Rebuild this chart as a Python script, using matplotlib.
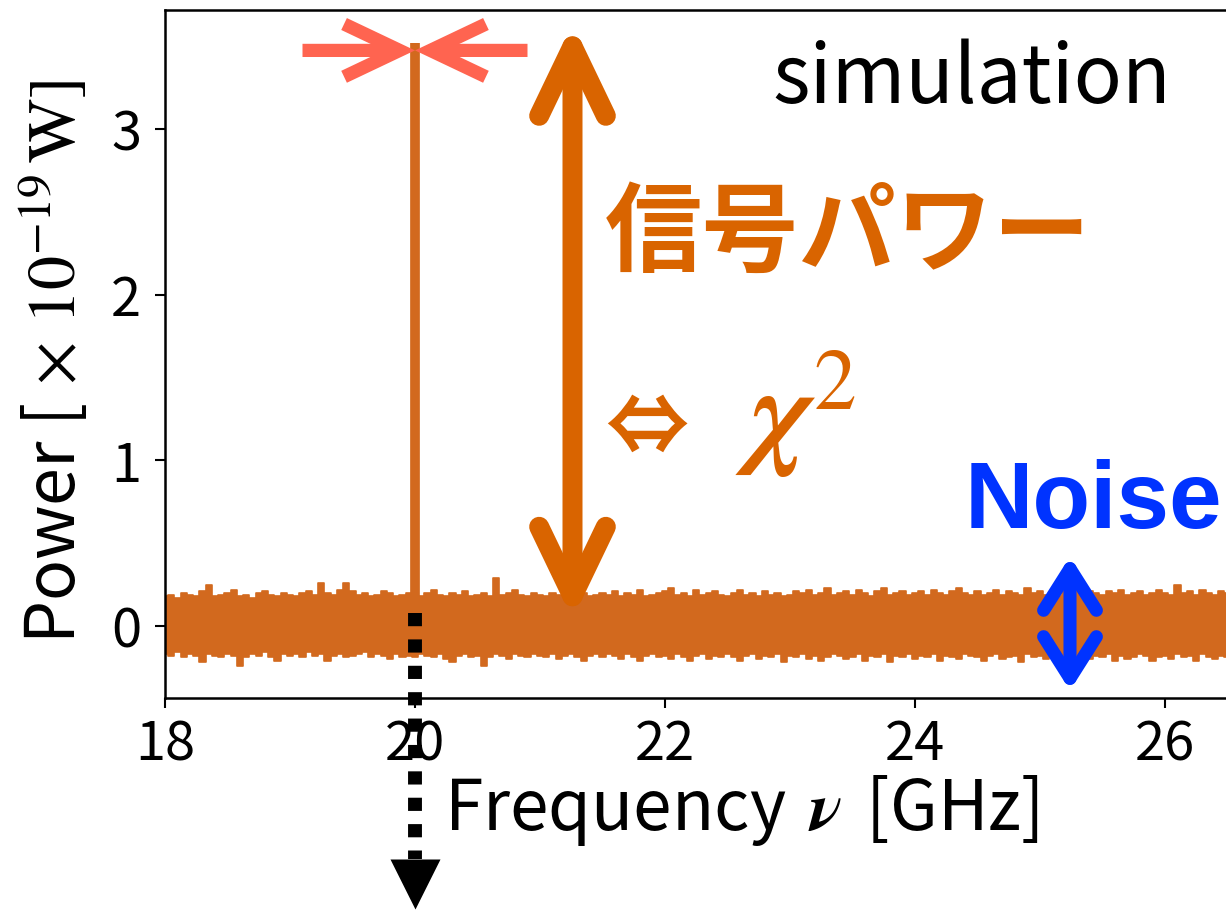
import numpy as np
import matplotlib
matplotlib.use('Agg')
import matplotlib.pyplot as plt
from matplotlib.patches import FancyArrowPatch, ArrowStyle

plt.rcParams['font.family'] = ['Noto Sans CJK JP', 'DejaVu Sans']
plt.rcParams['mathtext.fontset'] = 'stix'

# ---------------- data ----------------
freq_start = 18.0
freq_step = 0.05
noise_upper = [
    0.18, 0.19, 0.17, 0.20, 0.19, 0.18, 0.21, 0.25, 0.18, 0.19,
    0.20, 0.22, 0.18, 0.19, 0.17, 0.20, 0.21, 0.19, 0.18, 0.20,
    0.19, 0.18, 0.20, 0.21, 0.19, 0.26, 0.20, 0.19, 0.22, 0.26,
    0.21, 0.19, 0.20, 0.18, 0.19, 0.21, 0.20, 0.18, 0.19, 0.20,
    0.19, 0.18, 0.20, 0.22, 0.19, 0.18, 0.20, 0.19, 0.21, 0.18,
    0.19, 0.20, 0.18, 0.29, 0.19, 0.20, 0.22, 0.19, 0.18, 0.20,
    0.19, 0.18, 0.20, 0.19, 0.21, 0.18, 0.19, 0.20, 0.18, 0.19,
    0.20, 0.19, 0.21, 0.18, 0.20, 0.19, 0.22, 0.18, 0.19, 0.20,
    0.21, 0.23, 0.19, 0.20, 0.18, 0.22, 0.19, 0.20, 0.21, 0.19,
    0.18, 0.20, 0.22, 0.19, 0.20, 0.18, 0.21, 0.19, 0.20, 0.18,
    0.19, 0.21, 0.20, 0.22, 0.19, 0.20, 0.23, 0.19, 0.20, 0.21,
    0.19, 0.22, 0.20, 0.18, 0.21, 0.23, 0.19, 0.20, 0.21, 0.19,
    0.20, 0.21, 0.19, 0.22, 0.20, 0.19, 0.21, 0.23, 0.20, 0.19,
    0.21, 0.19, 0.20, 0.22, 0.19, 0.21, 0.20, 0.19, 0.23, 0.20,
    0.21, 0.19, 0.20, 0.18, 0.21, 0.20, 0.22, 0.19, 0.21, 0.20,
    0.19, 0.21, 0.20, 0.22, 0.19, 0.20, 0.21, 0.19, 0.20, 0.22,
    0.20, 0.19, 0.25, 0.20, 0.21, 0.19, 0.22, 0.20, 0.19, 0.21,
    0.20, 0.22, 0.19,
]
noise_lower = [
    -0.17, -0.18, -0.16, -0.19, -0.17, -0.18, -0.22, -0.17, -0.18, -0.19,
    -0.17, -0.18, -0.24, -0.19, -0.17, -0.18, -0.16, -0.19, -0.21, -0.17,
    -0.18, -0.17, -0.19, -0.16, -0.18, -0.17, -0.21, -0.18, -0.17, -0.19,
    -0.18, -0.17, -0.16, -0.19, -0.17, -0.18, -0.20, -0.17, -0.19, -0.18,
    -0.19, -0.17, -0.18, -0.19, -0.17, -0.20, -0.22, -0.18, -0.17, -0.19,
    -0.18, -0.24, -0.19, -0.17, -0.18, -0.20, -0.17, -0.18, -0.19, -0.17,
    -0.18, -0.19, -0.17, -0.20, -0.18, -0.17, -0.19, -0.21, -0.18, -0.17,
    -0.19, -0.17, -0.18, -0.20, -0.17, -0.19, -0.21, -0.18, -0.17, -0.19,
    -0.18, -0.20, -0.17, -0.19, -0.21, -0.18, -0.17, -0.20, -0.18, -0.19,
    -0.17, -0.19, -0.21, -0.18, -0.17, -0.20, -0.18, -0.19, -0.17, -0.22,
    -0.18, -0.19, -0.17, -0.20, -0.18, -0.21, -0.19, -0.17, -0.18, -0.20,
    -0.19, -0.17, -0.21, -0.18, -0.19, -0.17, -0.22, -0.18, -0.19, -0.17,
    -0.20, -0.18, -0.19, -0.17, -0.21, -0.18, -0.19, -0.20, -0.17, -0.18,
    -0.19, -0.21, -0.18, -0.17, -0.20, -0.19, -0.18, -0.22, -0.17, -0.19,
    -0.18, -0.20, -0.17, -0.19, -0.21, -0.18, -0.19, -0.17, -0.20, -0.18,
    -0.19, -0.17, -0.21, -0.18, -0.20, -0.19, -0.17, -0.18, -0.21, -0.19,
    -0.18, -0.20, -0.17, -0.19, -0.18, -0.21, -0.17, -0.19, -0.20, -0.18,
    -0.19, -0.17, -0.20,
]
noise_freq = freq_start + freq_step * np.arange(len(noise_upper))

signal_freq = 20.0
signal_power = 3.52

xticks = [18, 20, 22, 24, 26]
yticks = [0, 1, 2, 3]

xlabel = r'Frequency $\,\boldsymbol{\nu}\,$ [GHz]'
ylabel = r'Power [$\,\times\,10^{-19}\,\mathrm{W}]$'

# annotation anchors (data units)
marker_arrow_y = 3.476
marker_arrow_left = 19.10
marker_arrow_right = 20.90
power_arrow_freq = 21.26
power_arrow_top = 3.64
power_arrow_bottom = 0.04
noise_arrow_freq = 25.24
noise_arrow_top = 0.42
noise_arrow_bottom = -0.39
down_arrow_top = 0.078
down_arrow_bottom = -1.41
down_head_y = -1.557

NOISE_C = '#d2691e'
POWER_C = '#d96400'
RED_C = '#ff6450'
BLUE_C = '#0033ff'

# ---------------- figure ----------------
W, H = 1226, 910
fig = plt.figure(figsize=(W / 100, H / 100), dpi=100)
ax = fig.add_axes([165 / W, 1 - 698 / H, 1150 / W, 688 / H])
ax.set_xlim(18, 27.2)
ax.set_ylim(-0.435, 3.72)

ax.fill_between(noise_freq, noise_lower, noise_upper, step='mid',
                color=NOISE_C, lw=0, zorder=2)
ax.step(noise_freq, noise_upper, where='mid', color=NOISE_C, lw=1.2, zorder=2)
ax.step(noise_freq, noise_lower, where='mid', color=NOISE_C, lw=1.2, zorder=2)
ax.vlines(signal_freq, 0, signal_power, color=NOISE_C, lw=7, zorder=3)

for s in ax.spines.values():
    s.set_linewidth(1.8)
ax.set_xticks(xticks)
ax.set_yticks(yticks)
ax.tick_params(axis='both', labelsize=39, length=7, width=1.5, direction='out')
ax.tick_params(axis='x', pad=7)
ax.tick_params(axis='y', pad=10)

ax.set_xlabel(xlabel, fontsize=50)
ax.xaxis.label.set_verticalalignment('center')
ax.xaxis.set_label_coords(0.501, (698 - 810) / 688)
ax.set_ylabel(ylabel, fontsize=49)
ax.yaxis.label.set_verticalalignment('center')
ax.yaxis.set_label_coords((55 - 165) / 1150, (698 - 362) / 688)


def arrow(p0, p1, style, color, lw, cap='round', join='round', z=5):
    a = FancyArrowPatch(p0, p1, arrowstyle=style, mutation_scale=1,
                        color=color, lw=lw, shrinkA=0, shrinkB=0,
                        capstyle=cap, joinstyle=join, clip_on=False, zorder=z)
    ax.add_patch(a)


# red marker arrows pointing at the signal peak
red_style = ArrowStyle('->', head_length=40, head_width=19)
arrow((marker_arrow_left, marker_arrow_y), (signal_freq, marker_arrow_y),
      red_style, RED_C, 9.5, cap='butt', join='miter')
arrow((marker_arrow_right, marker_arrow_y), (signal_freq, marker_arrow_y),
      red_style, RED_C, 9.5, cap='butt', join='miter')

# signal power double arrow
arrow((power_arrow_freq, power_arrow_top), (power_arrow_freq, power_arrow_bottom),
      ArrowStyle('<->', head_length=50, head_width=24), POWER_C, 14.4)

# noise double arrow
arrow((noise_arrow_freq, noise_arrow_top), (noise_arrow_freq, noise_arrow_bottom),
      ArrowStyle('<->', head_length=30, head_width=19), BLUE_C, 9.4)

# dotted downward arrow
ax.plot([signal_freq, signal_freq], [down_arrow_top, down_arrow_bottom],
        color='k', lw=10, linestyle=(0, (0.95, 0.95)), dash_capstyle='butt',
        clip_on=False, zorder=6)
ax.plot([signal_freq], [down_head_y], marker='v', ms=36, color='k',
        mec='none', clip_on=False, zorder=6)

# texts
ax.text(22.86, 3.16, 'simulation', fontsize=57.5, color='k',
        ha='left', va='baseline')
ax.text(21.52, 2.36, '信号パワー', fontsize=70, fontweight='bold',
        color=POWER_C, ha='left', va='center')
ax.text(21.52, 1.18, '⇔', fontsize=60, fontweight='bold',
        color=POWER_C, ha='left', va='center')
ax.text(22.56, 1.05, r'$\boldsymbol{\chi}^{\,2}$', fontsize=88, color=POWER_C,
        ha='left', va='baseline')
ax.text(24.40, 0.59, 'Noise', fontsize=68, fontweight='bold',
        family='Liberation Sans', color=BLUE_C, ha='left', va='baseline')

fig.savefig('out.png', dpi=100)
